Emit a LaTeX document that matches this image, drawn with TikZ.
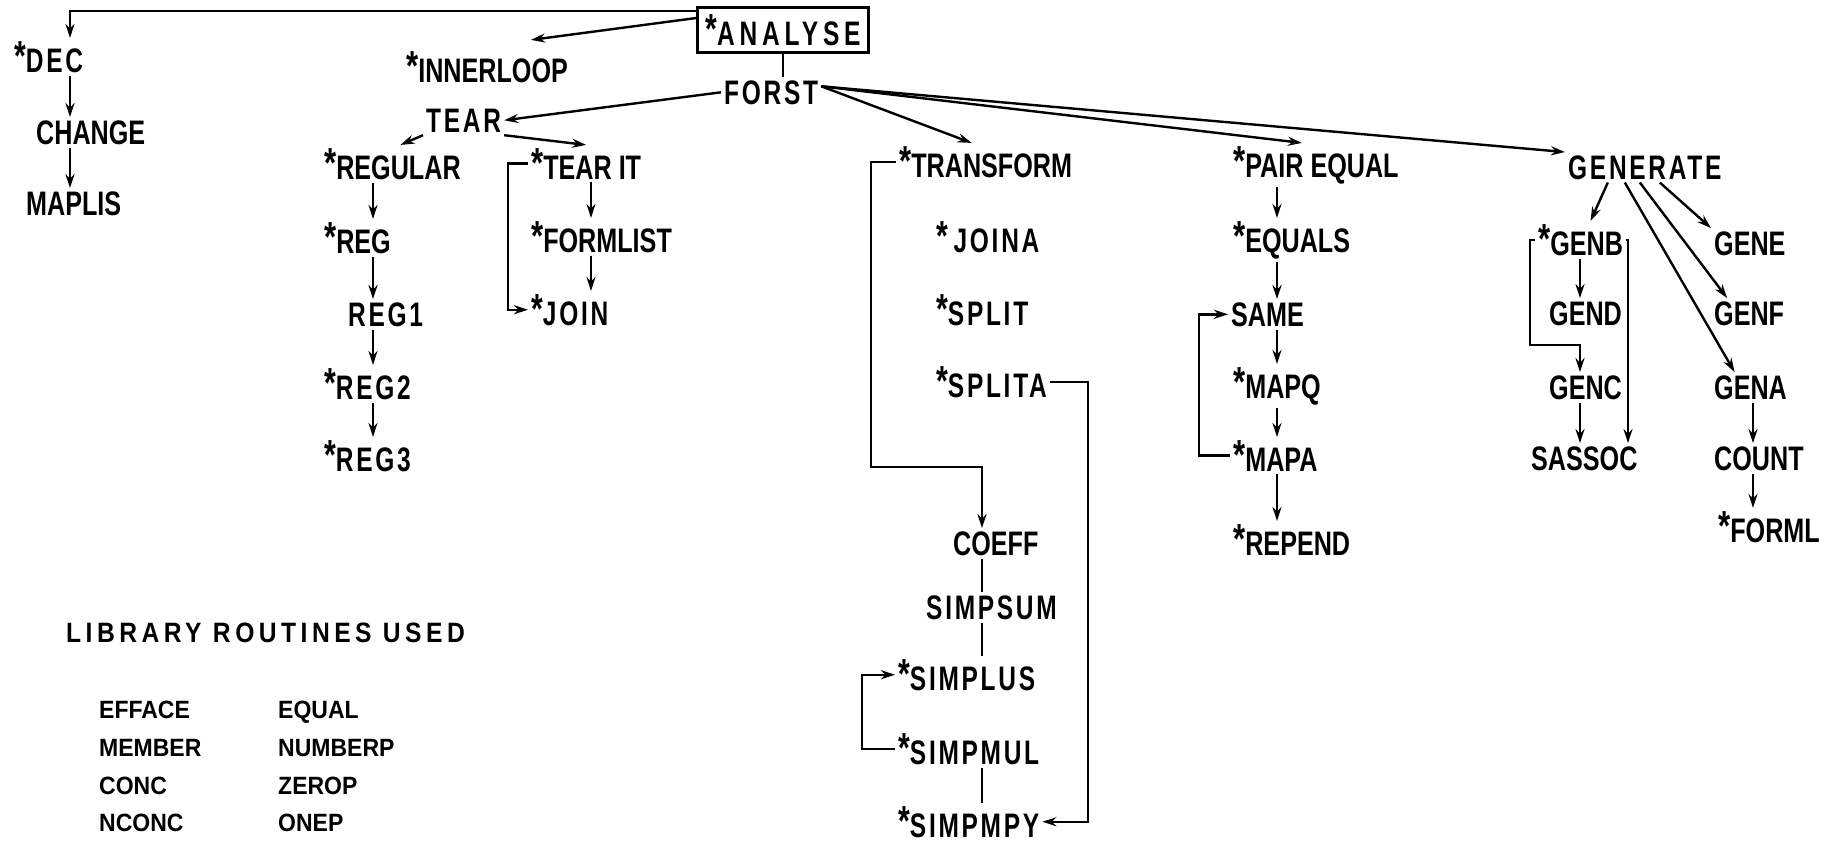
\documentclass[tikz,border=0pt]{standalone}
\usepackage{fontspec}
\usetikzlibrary{arrows.meta}

\newfontfamily\condfont{Liberation Sans Bold}[FakeStretch=0.74]
\newfontfamily\spcfont{Liberation Sans Bold}[FakeStretch=0.72,LetterSpace=8]
\newfontfamily\boxfont{Liberation Sans Bold}[FakeStretch=0.72,LetterSpace=14]
\newfontfamily\libfont{Liberation Sans}[FakeStretch=0.92]
\newfontfamily\libhdfont{Liberation Sans}[FakeStretch=0.88,LetterSpace=16]
\newcommand{\astr}{\raisebox{1pt}{\fontsize{21}{21}\selectfont *}}

\tikzset{
  lbl/.style={anchor=base west,inner sep=1pt,font=\condfont\fontsize{17}{20}\selectfont},
  spc/.style={lbl,font=\spcfont\fontsize{17}{20}\selectfont},
  box/.style={draw,inner xsep=4pt,minimum height=22.5pt,font=\boxfont\fontsize{17}{20}\selectfont},
  lib/.style={anchor=base west,inner sep=1pt,font=\libfont\bfseries\fontsize{12.5}{15}\selectfont},
  libhd/.style={anchor=base west,inner sep=1pt,font=\libhdfont\bfseries\fontsize{14}{17}\selectfont},
  arr/.style={-{Stealth[length=7pt,width=4.5pt]}},
  oarr/.style={-{Stealth[open,length=7pt,width=4.5pt]}}
}

\begin{document}
\begin{tikzpicture}[x=0.5pt,y=-0.5pt,line width=1.2pt]
\fill[white] (0,0) rectangle (1833,842);
\useasboundingbox (0,0) rectangle (1833,842);

% columns of the vertical arrows
\coordinate (cD) at (70,0);
\coordinate (cR) at (373,0);
\coordinate (cT) at (591,0);
\coordinate (cC) at (982,467);
\coordinate (cS) at (1088,0);
\coordinate (cP) at (1277,0);
\coordinate (cB) at (1580,345);
\coordinate (cG) at (1628,0);
\coordinate (cA) at (1753,0);

% routines
\node[box] (analyse) at (783,30) {\astr ANALYSE};
\node[spc] (dec) at (11,72) {\astr DEC};
\node[lbl] (change) at (33,144) {CHANGE};
\node[lbl] (maplis) at (23,215) {MAPLIS};
\node[lbl] (innerloop) at (403,82) {\astr INNERLOOP};
\node[spc] (forst) at (721,104) {FORST};
\node[spc] (tear) at (423,132) {TEAR};

\node[lbl] (regular) at (321,179) {\astr REGULAR};
\node[lbl] (reg) at (321,253) {\astr REG};
\node[spc] (reg1) at (345,326) {REG1};
\node[spc] (reg2) at (321,399) {\astr REG2};
\node[spc] (reg3) at (321,471) {\astr REG3};

\node[lbl] (tearit) at (528,179) {\astr TEAR IT};
\node[lbl] (formlist) at (528,252) {\astr FORMLIST};
\node[spc] (join) at (528,325) {\astr JOIN};

\node[lbl] (transform) at (896,177) {\astr TRANSFORM};
\node[spc] (joina) at (933,252) {\astr\,JOINA};
\node[spc] (split) at (933,325) {\astr SPLIT};
\node[spc] (splita) at (933,397) {\astr SPLITA};
\node[lbl] (coeff) at (950,555) {COEFF};
\node[spc] (simpsum) at (923,619) {SIMPSUM};
\node[spc] (simplus) at (895,690) {\astr SIMPLUS};
\node[spc] (simpmul) at (895,764) {\astr SIMPMUL};
\node[spc] (simpmpy) at (895,837) {\astr SIMPMPY};

\node[lbl] (pairequal) at (1230,177) {\astr PAIR EQUAL};
\node[lbl] (equals) at (1230,252) {\astr EQUALS};
\node[lbl] (same) at (1228,326) {SAME};
\node[lbl] (mapq) at (1230,398) {\astr MAPQ};
\node[lbl] (mapa) at (1230,471) {\astr MAPA};
\node[lbl] (repend) at (1230,555) {\astr REPEND};

\node[spc] (generate) at (1565,179) {GENERATE};
\node[lbl] (genb) at (1535,255) {\astr GENB};
\node[lbl] (gend) at (1546,325) {GEND};
\node[lbl] (genc) at (1546,399) {GENC};
\node[lbl] (sassoc) at (1528,470) {SASSOC};
\node[lbl] (gene) at (1711,255) {GENE};
\node[lbl] (genf) at (1711,325) {GENF};
\node[lbl] (gena) at (1711,399) {GENA};
\node[lbl] (count) at (1711,470) {COUNT};
\node[lbl] (forml) at (1715,542) {\astr FORML};

% library list
\node[libhd] (libtitle) at (63,642) {LIBRARY ROUTINES USED};
\node[lib] (efface) at (96,718) {EFFACE};
\node[lib] (member) at (96,756) {MEMBER};
\node[lib] (conc) at (96,794) {CONC};
\node[lib] (nconc) at (96,831) {NCONC};
\node[lib] (equal) at (275,718) {EQUAL};
\node[lib] (numberp) at (275,756) {NUMBERP};
\node[lib] (zerop) at (275,794) {ZEROP};
\node[lib] (onep) at (275,831) {ONEP};

% calls
\draw[arr] ([yshift=9.5pt]analyse.west) -| (cD |- dec.north);
\draw[arr] ([yshift=6pt]analyse.west) -- ([shift={(22pt,4pt)}]innerloop.north);
\draw (analyse.south) -- (analyse.south |- forst.north);
\draw[oarr] (forst.west) -- (tear.east);
\draw[oarr] ([yshift=3pt]forst.east) -- ([xshift=-7pt]transform.north);
\draw[arr] ([yshift=3pt]forst.east) -- ([xshift=-7pt]pairequal.north);
\draw[arr] ([yshift=3pt]forst.east) -- (generate.north west);

\draw[arr] (dec.south -| cD) -- (change.north -| cD);
\draw[arr] (change.south -| cD) -- (maplis.north -| cD);

\draw[oarr] (tear.south west) -- ([xshift=4pt]regular.north);
\draw[oarr] (tear.south east) -- (tearit.north);
\draw[arr] (regular.south -| cR) -- (reg.north -| cR);
\draw[arr] (reg.south -| cR) -- (reg1.north -| cR);
\draw[arr] (reg1.south -| cR) -- (reg2.north -| cR);
\draw[arr] (reg2.south -| cR) -- (reg3.north -| cR);
\draw[arr] (tearit.south -| cT) -- (formlist.north -| cT);
\draw[arr] (formlist.south -| cT) -- (join.north -| cT);
\draw[arr] (tearit.west) -- ++(-20,0) |- (join.west);

\draw[arr] (transform.west) -- ++(-25,0) |- (cC) -- (cC |- coeff.north);
\draw[arr] (splita.east) -- (splita.east -| cS) |- (simpmpy.east);
\draw (coeff.south -| cC) -- (simpsum.north -| cC);
\draw (simpsum.south -| cC) -- (simplus.north -| cC);
\draw (simpmul.south -| cC) -- (simpmpy.north -| cC);
\draw[arr] (simpmul.west) -- ++(-33,0) |- (simplus.west);

\draw[arr] (pairequal.south -| cP) -- (equals.north -| cP);
\draw[oarr] (equals.south -| cP) -- (same.north -| cP);
\draw[arr] (same.south -| cP) -- (mapq.north -| cP);
\draw[arr] (mapq.south -| cP) -- (mapa.north -| cP);
\draw[arr] (mapa.south -| cP) -- (repend.north -| cP);
\draw[arr] (mapa.west) -- ++(-31,0) |- (same.west);

\draw[arr] ([xshift=-18.5pt]generate.south) -- ([xshift=5pt]genb.north);
\draw[arr] ([xshift=-10pt]generate.south) -- ([xshift=-8pt]gena.north);
\draw[arr] ([xshift=-2.5pt]generate.south) -- ([xshift=-11pt]genf.north);
\draw[arr] ([xshift=7.5pt]generate.south) -- (gene.north west);
\draw[arr] (genb.south -| cB) -- (gend.north -| cB);
\draw[oarr] (genb.west) -- ++(-5,0) |- (cB) -- (cB |- genc.north);
\draw[oarr] (genc.south -| cB) -- (sassoc.north -| cB);
\draw[arr] (genb.east) -| (cG |- sassoc.north);
\draw[arr] (gena.south -| cA) -- (count.north -| cA);
\draw[arr] (count.south -| cA) -- (forml.north -| cA);
\end{tikzpicture}
\end{document}
